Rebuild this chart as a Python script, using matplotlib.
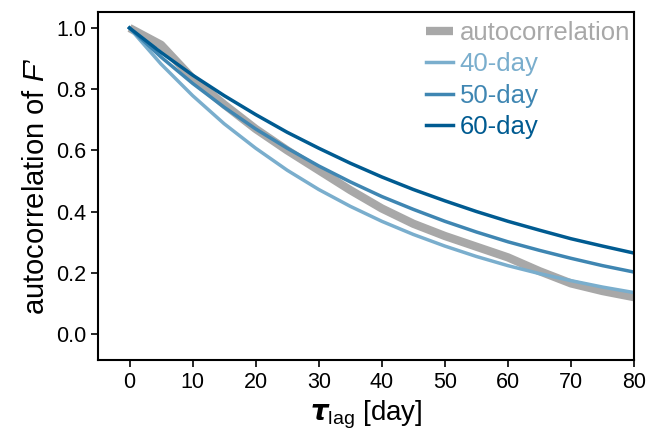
import matplotlib
matplotlib.use("Agg")
import matplotlib.pyplot as plt

plt.rcParams["font.family"] = ["Liberation Sans", "DejaVu Sans"]
plt.rcParams["mathtext.fontset"] = "custom"
plt.rcParams["mathtext.rm"] = "Liberation Sans"
plt.rcParams["mathtext.it"] = "Liberation Sans:italic"
plt.rcParams["mathtext.bf"] = "Liberation Sans:bold"

# lag in days
lag = [0, 5, 10, 15, 20, 25, 30, 35, 40, 45, 50, 55, 60, 65, 70, 75, 80]

# measured autocorrelation of F'
acf = [1.0, 0.945, 0.835, 0.75, 0.67, 0.60, 0.535, 0.47, 0.41, 0.36,
       0.32, 0.285, 0.25, 0.205, 0.165, 0.14, 0.12]

# exponential decay curves for 40, 50 and 60 day timescales
fit40 = [1.0, 0.882, 0.779, 0.687, 0.607, 0.535, 0.472, 0.417, 0.368,
         0.325, 0.287, 0.253, 0.223, 0.197, 0.174, 0.153, 0.135]
fit50 = [1.0, 0.905, 0.819, 0.741, 0.670, 0.607, 0.549, 0.497, 0.449,
         0.407, 0.368, 0.333, 0.301, 0.273, 0.247, 0.223, 0.202]
fit60 = [1.0, 0.920, 0.846, 0.779, 0.717, 0.659, 0.607, 0.558, 0.513,
         0.472, 0.435, 0.400, 0.368, 0.339, 0.311, 0.287, 0.264]

labels = ["autocorrelation", "40-day", "50-day", "60-day"]
colors = ["#a8a8a8", "#7aaecd", "#3f86b2", "#005b91"]

fig, ax = plt.subplots(figsize=(6.49, 4.32), dpi=100)
ax.plot(lag, acf, c=colors[0], lw=6, label=labels[0], solid_capstyle="butt")
ax.plot(lag, fit40, c=colors[1], lw=2.5, label=labels[1])
ax.plot(lag, fit50, c=colors[2], lw=2.5, label=labels[2])
ax.plot(lag, fit60, c=colors[3], lw=2.5, label=labels[3])

ax.set_xlim(-5, 80)
ax.set_ylim(-0.085, 1.052)
ax.set_xticks(range(0, 81, 10))
ax.set_yticks([0.0, 0.2, 0.4, 0.6, 0.8, 1.0])
ax.tick_params(labelsize=15.5, direction="out", length=5, width=1.2)
for s in ax.spines.values():
    s.set_linewidth(1.5)

ax.set_xlabel(r"$\boldsymbol{\tau}_{\mathrm{lag}}$ [day]", fontsize=20)
ax.set_ylabel("autocorrelation of $F$\u2019", fontsize=21)

leg = ax.legend(loc="upper right", bbox_to_anchor=(1.0, 0.985),
                frameon=False, fontsize=18.5,
                handlelength=1.05, handletextpad=0.25, labelspacing=0.28,
                borderaxespad=0.0, borderpad=0.15)
for txt, c in zip(leg.get_texts(), colors):
    txt.set_color(c)

fig.subplots_adjust(left=0.151, right=0.977, top=0.972, bottom=0.167)
fig.savefig("out.png", dpi=100)
